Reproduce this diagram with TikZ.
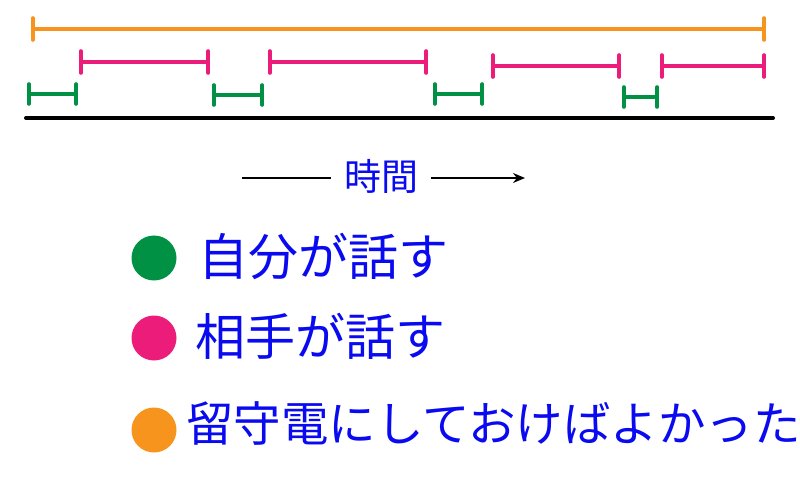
\documentclass[tikz,border=0pt]{standalone}
\usepackage{fontspec}
\newfontfamily\jp{Noto Sans CJK JP}
\usetikzlibrary{arrows.meta}
\definecolor{cOrange}{HTML}{F7941D}
\definecolor{cPink}{HTML}{EC1C7B}
\definecolor{cGreen}{HTML}{009145}
\definecolor{cBlue}{HTML}{0A0AF0}
\tikzset{
  seg/.style={line width=3.6pt,{Bar[width=22pt,round]}-{Bar[width=22pt,round]}},
  gseg/.style={seg,cGreen,{Bar[width=20pt,round]}-{Bar[width=20pt,round]}},
  pseg/.style={seg,cPink},
  oseg/.style={seg,cOrange},
  dot/.style={circle,minimum size=45pt,inner sep=0pt,draw=none},
  lbl/.style={anchor=west,inner sep=0pt,text=cBlue,font=\jp\fontsize{50pt}{50pt}\selectfont},
}
\begin{document}
\begin{tikzpicture}[x=1pt,y=-1pt]
\useasboundingbox (0,0) rectangle (800,494);
% orange
\coordinate (o1) at (31,29); \coordinate (o2) at (766,29);
\draw[oseg] (o1) -- (o2);
% pink
\coordinate (p1a) at (79,62);  \coordinate (p1b) at (210,62);
\coordinate (p2a) at (268,62); \coordinate (p2b) at (428,62);
\coordinate (p3a) at (491,66); \coordinate (p3b) at (621,66);
\coordinate (p4a) at (660,66); \coordinate (p4b) at (766,66);
\draw[pseg] (p1a) -- (p1b);
\draw[pseg] (p2a) -- (p2b);
\draw[pseg] (p3a) -- (p3b);
\draw[pseg] (p4a) -- (p4b);
% green
\coordinate (g1a) at (27,94);  \coordinate (g1b) at (78,94);
\coordinate (g2a) at (212,95); \coordinate (g2b) at (264,95);
\coordinate (g3a) at (433,94); \coordinate (g3b) at (484,94);
\coordinate (g4a) at (622,97); \coordinate (g4b) at (659,97);
\draw[gseg] (g1a) -- (g1b);
\draw[gseg] (g2a) -- (g2b);
\draw[gseg] (g3a) -- (g3b);
\draw[gseg] (g4a) -- (g4b);
% axis
\coordinate (ax1) at (26,118); \coordinate (ax2) at (773,118);
\draw[line width=4pt,line cap=round] (ax1) -- (ax2);
% time
\node[text=cBlue,font=\jp\fontsize{37pt}{37pt}\selectfont,inner xsep=13pt,inner ysep=0pt] (t) at (381,176) {時間};
\coordinate (ta) at (242,178); \coordinate (tb) at (525,178);
\draw[line width=1.4pt] (ta) -- (t.west |- ta);
\draw[line width=1.4pt,-{Stealth[length=12pt,width=10pt]}] (t.east |- tb) -- (tb);
% legend
\node[dot,fill=cGreen] (dg) at (154,258) {};
\node[dot,fill=cPink] (dp) at (154,338) {};
\node[dot,fill=cOrange] (do) at (154,430) {};
\node[lbl] (lg) at (198,256) {自分が話す};
\node[lbl] (lp) at (195,336) {相手が話す};
\node[lbl,font=\jp\fontsize{47.5pt}{47.5pt}\selectfont] (lo) at (186,423) {留守電にしておけばよかった};
\end{tikzpicture}
\end{document}
